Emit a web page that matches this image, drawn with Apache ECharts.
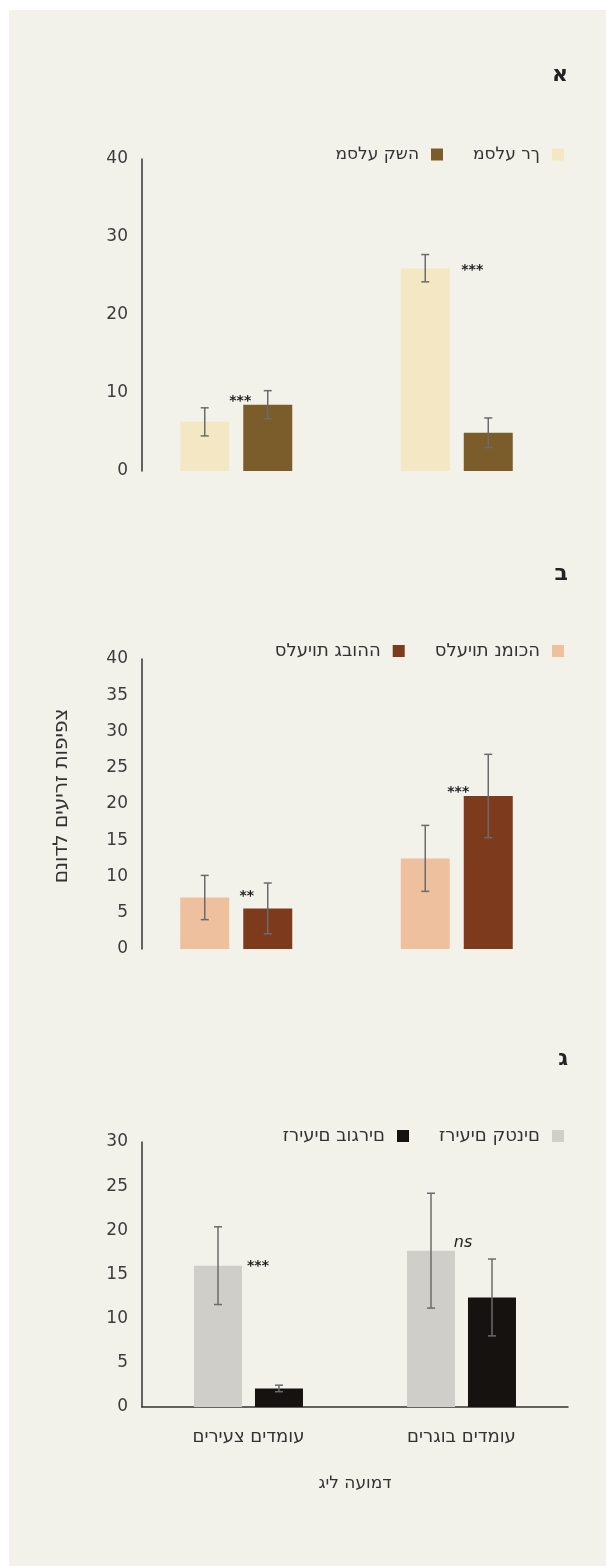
<!DOCTYPE html>
<html>
<head>
<meta charset="utf-8">
<script src="https://cdn.jsdelivr.net/npm/echarts@6/dist/echarts.min.js"></script>
<style>
html, body { margin: 0; padding: 0; background: #ffffff; }
#panel { position: absolute; left: 9px; top: 10px; width: 597px; height: 1556px; background: #f3f2ea; }
#chart { position: absolute; left: 0; top: 0; width: 606px; height: 1566px; }
</style>
</head>
<body>
<div id="panel"></div>
<div id="chart"></div>
<script>
var categories = ['עומדים צעירים', 'עומדים בוגרים'];

// א - מסלע
var softRock = [6.3, 26.0];
var softRockErr = [1.8, 1.75];
var hardRock = [8.5, 4.9];
var hardRockErr = [1.8, 1.9];
var sigA = ['***', '***'];
var sigAAt = [9.4, 26.2];

// ב - סלעיות
var lowRock = [7.1, 12.5];
var lowRockErr = [3.05, 4.55];
var highRock = [5.6, 21.1];
var highRockErr = [3.5, 5.75];
var sigB = ['**', '***'];
var sigBAt = [7.8, 22.2];

// ג - גודל הזריע
var smallSeed = [16.0, 17.7];
var smallSeedErr = [4.4, 6.5];
var matureSeed = [2.1, 12.4];
var matureSeedErr = [0.37, 4.35];
var sigC = ['***', 'ns'];
var sigCAt = [16.4, 18.6];

var yMaxA = 40, yStepA = 10;
var yMaxB = 40, yStepB = 5;
var yMaxC = 30, yStepC = 5;

var FONT = "'DejaVu Sans', 'Liberation Sans', sans-serif";
var errColor = '#6b6b6b';

/* flip char order so the canvas shows the words the right way round */
function rtl(s) {
	return s.split('').reverse().join('')
}

function errData(vals, errs) {
	return vals.map(function (v, i) { return [i, v, errs[i]] })
}

function sigData(labels, at) {
	return labels.map(function (t, i) { return [i, at[i], t] })
}

/* error bar, shifted dx px from the category centre */
function errRender(dx) {
	return function (params, api) {
		var c = api.value(0), v = api.value(1), e = api.value(2);
		var top = api.coord([c, v + e]);
		var bot = api.coord([c, v - e]);
		var x = top[0] + dx;
		var st = { stroke: errColor, lineWidth: 1.5 };
		return {
			type: 'group',
			children: [
				{ type: 'line', shape: { x1: x, y1: top[1], x2: x, y2: bot[1] }, style: st },
				{ type: 'line', shape: { x1: x - 4, y1: top[1], x2: x + 4, y2: top[1] }, style: st },
				{ type: 'line', shape: { x1: x - 4, y1: bot[1], x2: x + 4, y2: bot[1] }, style: st }
			]
		}
	}
}

var sigLabelsByIndex = { sigA: sigA, sigB: sigB, sigC: sigC };

/* significance marks */
function sigRender(dxs) {
	return function (params, api) {
		var c = api.value(0);
		var p = api.coord([c, api.value(1)]);
		var txt = sigLabelsByIndex[params.seriesName][params.dataIndex];
		var isNs = txt === 'ns';
		return {
			type: 'text',
			x: p[0] + dxs[params.dataIndex],
			y: p[1] + (isNs ? 0 : 4),
			style: {
				text: txt,
				fill: '#222',
				font: (isNs ? 'italic 16px ' : 'bold 14px ') + FONT,
				align: 'center',
				verticalAlign: 'middle'
			}
		}
	}
}

function yAxisCfg(idx, max, step, offset) {
	return {
		type: 'value',
		gridIndex: idx,
		min: 0,
		max: max,
		interval: step,
		offset: offset,
		axisLine: { show: true, lineStyle: { color: '#333', width: 1.5 } },
		axisTick: { show: false },
		splitLine: { show: false },
		axisLabel: { color: '#3c3c3c', fontSize: 17, fontFamily: FONT, margin: 14 }
	}
}

function legendCfg(top, names, size) {
	return {
		top: top,
		right: 42,
		padding: 0,
		align: 'right',
		icon: 'rect',
		itemWidth: 12,
		itemHeight: 12,
		itemGap: 30,
		data: names,
		formatter: rtl,
		textStyle: { color: '#333', fontSize: size, fontFamily: FONT, padding: [0, 7, 0, 0] }
	}
}

function letterTitle(t, top) {
	return { text: t, right: 33, top: top, textStyle: { fontSize: 22, fontWeight: 'bold', color: '#222', fontFamily: FONT } }
}

var chart = echarts.init(document.getElementById('chart'));
var option = {
	animation: false,
	title: [
		letterTitle('א', 59),
		letterTitle('ב', 558),
		letterTitle('ג', 1043)
	],
	legend: [
		legendCfg(146, ['מסלע קשה', 'מסלע רך'], 17),
		legendCfg(642, ['סלעיות גבוהה', 'סלעיות נמוכה'], 18),
		legendCfg(1127, ['זריעים בוגרים', 'זריעים קטנים'], 18)
	],
	grid: [
		{ left: 126, top: 159, width: 441, height: 312 },
		{ left: 126, top: 659, width: 441, height: 290 },
		{ left: 142, top: 1142, width: 426, height: 265 }
	],
	xAxis: [
		{ type: 'category', gridIndex: 0, data: categories, show: false },
		{ type: 'category', gridIndex: 1, data: categories, show: false },
		{
			type: 'category', gridIndex: 2, data: categories,
			axisLine: { show: true, lineStyle: { color: '#333', width: 1.5 } },
			axisTick: { show: false },
			axisLabel: { color: '#333', fontSize: 18, fontFamily: FONT, margin: 21 },
			name: rtl('גיל העומד'),
			nameLocation: 'middle',
			nameGap: 68,
			nameTextStyle: { color: '#333', fontSize: 17, fontFamily: FONT }
		}
	],
	yAxis: [
		yAxisCfg(0, yMaxA, yStepA, -16),
		Object.assign(yAxisCfg(1, yMaxB, yStepB, -16), {
			name: 'צפיפות זריעים לדונם',
			nameLocation: 'middle',
			nameGap: 70,
			nameTextStyle: { color: '#333', fontSize: 20, fontFamily: FONT, padding: [0, 0, 0, 16] }
		}),
		yAxisCfg(2, yMaxC, yStepC, 0)
	],
	series: [
		{ name: 'מסלע רך', type: 'bar', xAxisIndex: 0, yAxisIndex: 0, data: softRock, barWidth: 49, barGap: '28.6%', itemStyle: { color: '#f3e8c3' } },
		{ name: 'מסלע קשה', type: 'bar', xAxisIndex: 0, yAxisIndex: 0, data: hardRock, barWidth: 49, barGap: '28.6%', itemStyle: { color: '#7a5d2b' } },
		{ name: 'errSoft', type: 'custom', xAxisIndex: 0, yAxisIndex: 0, z: 5, renderItem: errRender(-31.5), data: errData(softRock, softRockErr) },
		{ name: 'errHard', type: 'custom', xAxisIndex: 0, yAxisIndex: 0, z: 5, renderItem: errRender(31.5), data: errData(hardRock, hardRockErr) },
		{ name: 'sigA', type: 'custom', xAxisIndex: 0, yAxisIndex: 0, z: 6, renderItem: sigRender([4, 15.5]), data: sigData(sigA, sigAAt) },

		{ name: 'סלעיות נמוכה', type: 'bar', xAxisIndex: 1, yAxisIndex: 1, data: lowRock, barWidth: 49, barGap: '28.6%', itemStyle: { color: '#eec09d' } },
		{ name: 'סלעיות גבוהה', type: 'bar', xAxisIndex: 1, yAxisIndex: 1, data: highRock, barWidth: 49, barGap: '28.6%', itemStyle: { color: '#7e3a1d' } },
		{ name: 'errLow', type: 'custom', xAxisIndex: 1, yAxisIndex: 1, z: 5, renderItem: errRender(-31.5), data: errData(lowRock, lowRockErr) },
		{ name: 'errHigh', type: 'custom', xAxisIndex: 1, yAxisIndex: 1, z: 5, renderItem: errRender(31.5), data: errData(highRock, highRockErr) },
		{ name: 'sigB', type: 'custom', xAxisIndex: 1, yAxisIndex: 1, z: 6, renderItem: sigRender([10.5, 1.5]), data: sigData(sigB, sigBAt) },

		{ name: 'זריעים קטנים', type: 'bar', xAxisIndex: 2, yAxisIndex: 2, data: smallSeed, barWidth: 48, barGap: '27%', itemStyle: { color: '#cfcec8' } },
		{ name: 'זריעים בוגרים', type: 'bar', xAxisIndex: 2, yAxisIndex: 2, data: matureSeed, barWidth: 48, barGap: '27%', itemStyle: { color: '#15120f' } },
		{ name: 'errSmall', type: 'custom', xAxisIndex: 2, yAxisIndex: 2, z: 5, renderItem: errRender(-30.5), data: errData(smallSeed, smallSeedErr) },
		{ name: 'errMature', type: 'custom', xAxisIndex: 2, yAxisIndex: 2, z: 5, renderItem: errRender(30.5), data: errData(matureSeed, matureSeedErr) },
		{ name: 'sigC', type: 'custom', xAxisIndex: 2, yAxisIndex: 2, z: 6, renderItem: sigRender([9.5, 1.5]), data: sigData(sigC, sigCAt) }
	]
};
chart.setOption(option);
</script>
</body>
</html>
